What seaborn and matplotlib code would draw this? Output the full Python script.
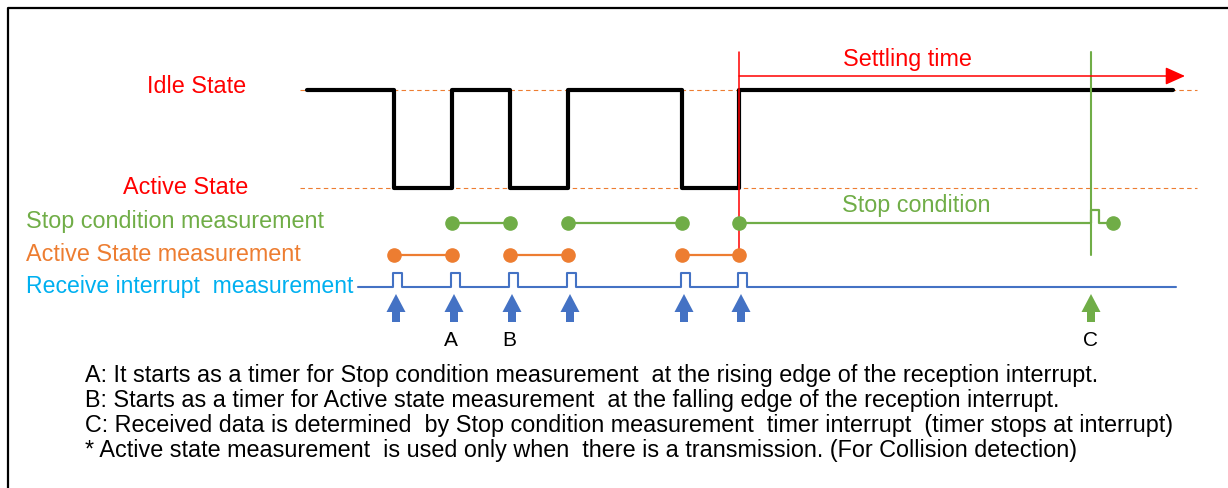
import matplotlib
matplotlib.use("Agg")
import matplotlib.pyplot as plt
import seaborn as sns

# %% Data (pixel coordinates of the timing diagram, y grows downward)

edges = [394, 452, 510, 568, 682, 739]          # transitions of the received signal
sig_start, sig_end = 307, 1173
idle_y, active_y = 90, 188

stop_pairs = [(452, 510), (568, 682), (739, 1113)]   # stop condition timer runs
active_pairs = [(394, 452), (510, 568), (682, 739)]  # active state timer runs
stop_timeout_x = 1091                                # C: stop condition interrupt
settle_start, settle_end = 739, 1185

arrow_x = [396, 454, 512, 570, 684, 741]
letters = ["A", "B", "C"]
letter_x = [451, 509, 1091]

left_labels = ["Idle State", "Active State", "Stop condition measurement",
               "Active State measurement", "Receive interrupt  measurement"]
notes = [
    "A: It starts as a timer for Stop condition measurement  at the rising edge of the reception interrupt.",
    "B: Starts as a timer for Active state measurement  at the falling edge of the reception interrupt.",
    "C: Received data is determined  by Stop condition measurement  timer interrupt  (timer stops at interrupt)",
    "* Active state measurement  is used only when  there is a transmission. (For Collision detection)",
]

RED = "#FF0000"
GREEN = "#70AD47"
ORANGE = "#ED7D31"
BLUE = "#4472C4"
CYAN = "#00B0F0"

# %% Build traces

sig_x, sig_y = [sig_start], [idle_y]
level = idle_y
for e in edges:
    sig_x += [e, e]
    nxt = active_y if level == idle_y else idle_y
    sig_y += [level, nxt]
    level = nxt
sig_x.append(sig_end)
sig_y.append(level)

rx_base, rx_top = 287, 273
rx_x, rx_y = [358], [rx_base]
for e in edges:
    rx_x += [e - 1, e - 1, e + 8, e + 8]
    rx_y += [rx_base, rx_top, rx_top, rx_base]
rx_x.append(1176)
rx_y.append(rx_base)

stop_y, act_y = 223, 255

# %% Plot

sns.set_theme(style="white")
plt.rcParams["font.family"] = ["Liberation Sans", "DejaVu Sans"]

fig = plt.figure(figsize=(12.28, 4.88), dpi=100)
ax = fig.add_axes([0, 0, 1, 1])
ax.set_xlim(0, 1228)
ax.set_ylim(488, 0)
ax.axis("off")

# frame
ax.plot([8, 8, 1228], [488, 8, 8], color="black", lw=1.6)

# reference dashed levels
for yy in (idle_y, active_y):
    ax.plot([300, 1197], [yy, yy], color=ORANGE, lw=0.8, dashes=(4, 3))

# received signal
sns.lineplot(x=sig_x, y=sig_y, estimator=None, sort=False, color="black",
             lw=3.0, ax=ax)

# settling time marker
ax.plot([settle_start, settle_start], [52, act_y], color=RED, lw=1.1)
ax.annotate("", xy=(settle_end, 76), xytext=(settle_start, 76),
            arrowprops=dict(arrowstyle="-|>,head_length=1.0,head_width=0.45",
                            color=RED, lw=1.1, shrinkA=0, shrinkB=0))
ax.text(907, 66, "Settling time", color=RED,
        fontsize=16.8, ha="center", va="baseline")

# stop condition timeout marker
ax.plot([stop_timeout_x, stop_timeout_x], [52, act_y], color=GREEN, lw=1.5)

# stop condition measurement
for a, b in stop_pairs:
    if b > stop_timeout_x:
        xs = [a, stop_timeout_x, stop_timeout_x, stop_timeout_x + 8,
              stop_timeout_x + 8, b]
        ys = [stop_y, stop_y, 210, 210, stop_y, stop_y]
    else:
        xs, ys = [a, b], [stop_y, stop_y]
    sns.lineplot(x=xs, y=ys, estimator=None, sort=False, color=GREEN, lw=1.6,
                 ax=ax)
    ax.plot([a, b], [stop_y, stop_y], ls="none", marker="o", ms=9.5,
            color=GREEN)
ax.text(916, 212, "Stop condition", color=GREEN, fontsize=16.8,
        ha="center", va="baseline")

# active state measurement
for a, b in active_pairs:
    sns.lineplot(x=[a, b], y=[act_y, act_y], estimator=None, sort=False,
                 color=ORANGE, lw=1.6, ax=ax)
    ax.plot([a, b], [act_y, act_y], ls="none", marker="o", ms=9.5,
            color=ORANGE)

# receive interrupt
sns.lineplot(x=rx_x, y=rx_y, estimator=None, sort=False, color=BLUE, lw=1.5,
             ax=ax)

# interrupt arrows
for xa in arrow_x:
    ax.arrow(xa, 322, 0, -28, width=8, head_width=19, head_length=18,
             length_includes_head=True, color=BLUE, lw=0)
ax.arrow(stop_timeout_x, 322, 0, -28, width=8, head_width=19, head_length=18,
         length_includes_head=True, color=GREEN, lw=0)

for lt, lx in zip(letters, letter_x):
    ax.text(lx, 346, lt, color="black", fontsize=15, ha="center",
            va="baseline")

# left labels
ax.text(246, 93, left_labels[0], color=RED, fontsize=16.8, ha="right",
        va="baseline")
ax.text(248, 194, left_labels[1], color=RED, fontsize=16.8, ha="right",
        va="baseline")
ax.text(26, 228, left_labels[2], color=GREEN, fontsize=16.8, ha="left",
        va="baseline")
ax.text(26, 261, left_labels[3], color=ORANGE, fontsize=16.8, ha="left",
        va="baseline")
ax.text(26, 293, left_labels[4], color=CYAN, fontsize=16.6, ha="left",
        va="baseline")

# notes
for i, note in enumerate(notes):
    ax.text(85, 382 + 25 * i, note, color="black", fontsize=16.8,
            ha="left", va="baseline")

fig.savefig("out.png", dpi=100)
